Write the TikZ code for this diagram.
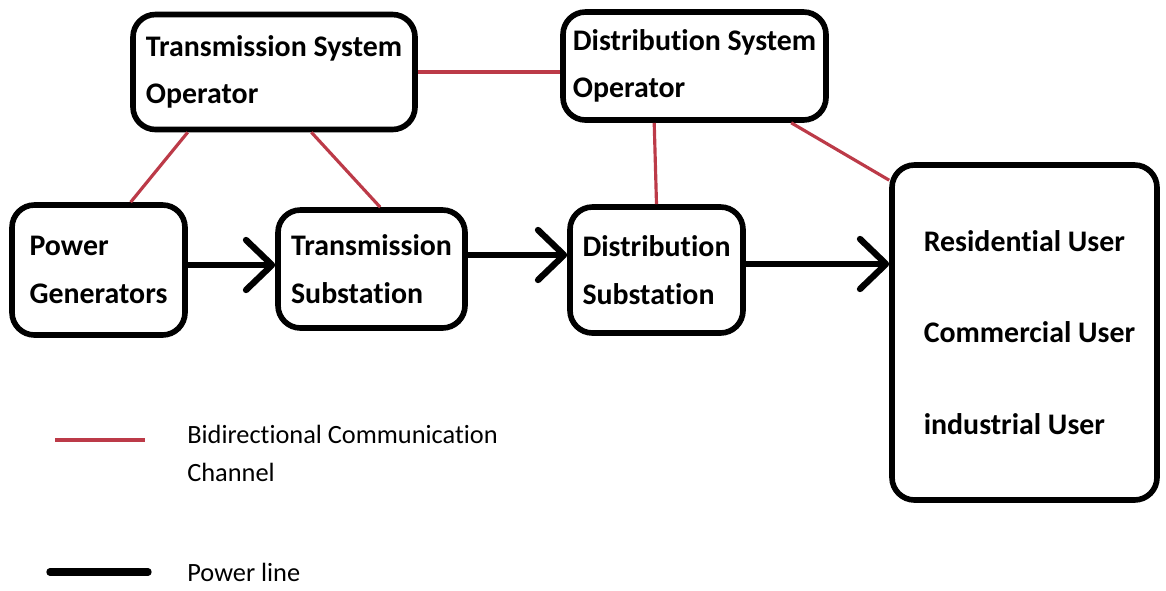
\documentclass[tikz,border=0pt]{standalone}
\usepackage{fontspec}
\setmainfont{Carlito}[Ligatures=NoCommon]
\usetikzlibrary{arrows.meta,calc}

\definecolor{rojocanal}{RGB}{188,58,72}

\tikzset{
    caja/.style={draw,line width=3.2pt,rounded corners=0.45cm,align=left,
        font=\bfseries\fontsize{17}{27}\selectfont,inner sep=0pt},
    canal/.style={rojocanal,line width=1.8pt},
    potencia/.style={line width=3.6pt,-{Straight Barb[length=0.52cm,width=1.0cm,round]}}
}

\begin{document}
\begin{tikzpicture}
    \useasboundingbox (0,0) rectangle (23.32,-11.8);

    % Operadores
    \node[caja,minimum width=5.64cm,minimum height=2.30cm] (TSO) at (5.48,-1.44) {Transmission System\\Operator};
    \node[caja,minimum width=5.26cm,minimum height=2.16cm] (DSO) at (13.89,-1.32) {Distribution System\\Operator};

    % Cadena de potencia
    \node[caja,minimum width=3.46cm,minimum height=2.60cm] (PG) at (1.97,-5.40) {Power\\Generators};
    \node[caja,minimum width=3.74cm,minimum height=2.36cm] (TS) at (7.43,-5.38) {Transmission\\Substation};
    \node[caja,minimum width=3.46cm,minimum height=2.52cm] (DS) at (13.13,-5.40) {Distribution\\Substation};
    \node[caja,minimum width=5.30cm,minimum height=6.70cm,
        font=\bfseries\fontsize{17}{52}\selectfont] (U) at (20.49,-6.65)
        {\hspace*{0.2cm}Residential User\\\hspace*{0.2cm}Commercial User\\\hspace*{0.2cm}industrial User};

    % Canales de comunicacion
    \draw[canal] (TSO.east) -- (TSO.east -| DSO.west);
    \draw[canal] ($(TSO.south west)!0.20!(TSO.south east)$) -- ($(PG.north west)!0.68!(PG.north east)$);
    \draw[canal] ($(TSO.south west)!0.63!(TSO.south east)$) -- ($(TS.north west)!0.545!(TS.north east)$);
    \draw[canal] ($(DSO.south west)!0.35!(DSO.south east)$) -- ($(DS.north west)!0.50!(DS.north east)$);
    \draw[canal] ($(DSO.south west)!0.86!(DSO.south east)$) -- ([yshift=-0.36cm]U.north west);

    % Lineas de potencia
    \draw[potencia] ([yshift=0.1cm]PG.east) -- ([yshift=0.1cm]PG.east -| TS.west);
    \draw[potencia] ([yshift=0.28cm]TS.east) -- ([yshift=0.28cm]TS.east -| DS.west);
    \draw[potencia] ([yshift=0.12cm]DS.east) -- ([yshift=0.12cm]DS.east -| U.west);

    % Leyenda
    \coordinate (R1) at (1.10,-8.80);
    \coordinate (R2) at (2.90,-8.80);
    \coordinate (N1) at (1.00,-11.44);
    \coordinate (N2) at (2.96,-11.44);
    \draw[canal,line width=2.2pt] (R1) -- (R2);
    \draw[line width=4.2pt,line cap=round] (N1) -- (N2);
    \node[anchor=north west,align=left,inner sep=0pt,
        font=\fontsize{15}{21.6}\selectfont] (LR) at (3.74,-8.50)
        {Bidirectional Communication\\Channel};
    \node[anchor=base west,inner sep=0pt,font=\fontsize{15}{18}\selectfont] (LN) at (3.74,-11.62) {Power line};
\end{tikzpicture}
\end{document}
